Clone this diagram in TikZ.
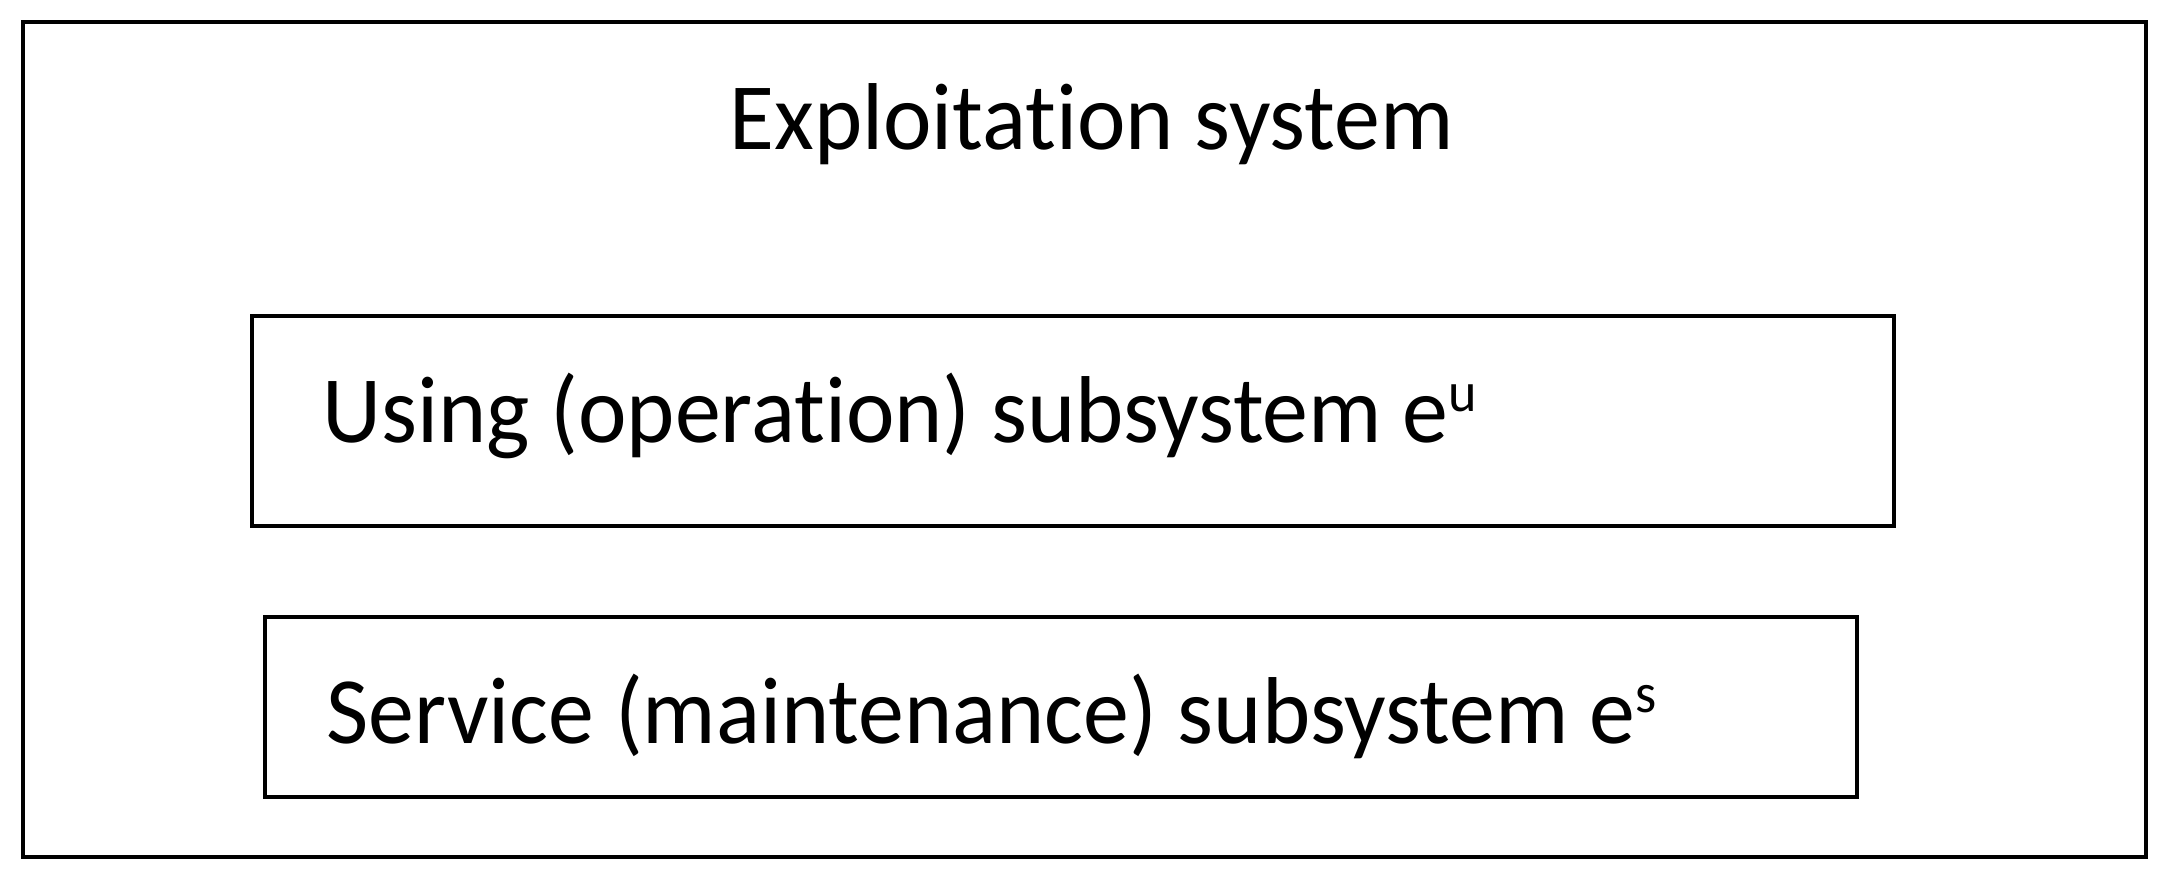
\documentclass[tikz,border=0pt]{standalone}
\usepackage{fontspec}
\setmainfont{Carlito}[Ligatures=NoCommon,FakeStretch=0.967]
\newcommand{\supr}[1]{\raisebox{15.5pt}{\fontsize{28pt}{30pt}\selectfont #1}}
\begin{document}
\begin{tikzpicture}[x=0.5pt,y=-0.5pt,
  outerbox/.style={draw=black,line width=2pt},
  subbox/.style={draw=black,line width=1.6pt},
  lbl/.style={inner sep=0pt,anchor=base west,font=\fontsize{47.5pt}{57pt}\selectfont}]
\useasboundingbox (0,0) rectangle (2166,883);
\draw[outerbox] (23,22) rectangle (2146,857);
\node[lbl] (title) at (729,149) {Exploitation system};
\draw[subbox] (252,316) rectangle (1894,526);
\node[lbl] (using) at (322,442) {Using (operation) subsystem e\supr{u}};
\draw[subbox] (265,617) rectangle (1857,797);
\node[lbl] (service) at (326,743) {Service (maintenance) subsystem e\supr{s}};
\end{tikzpicture}
\end{document}
